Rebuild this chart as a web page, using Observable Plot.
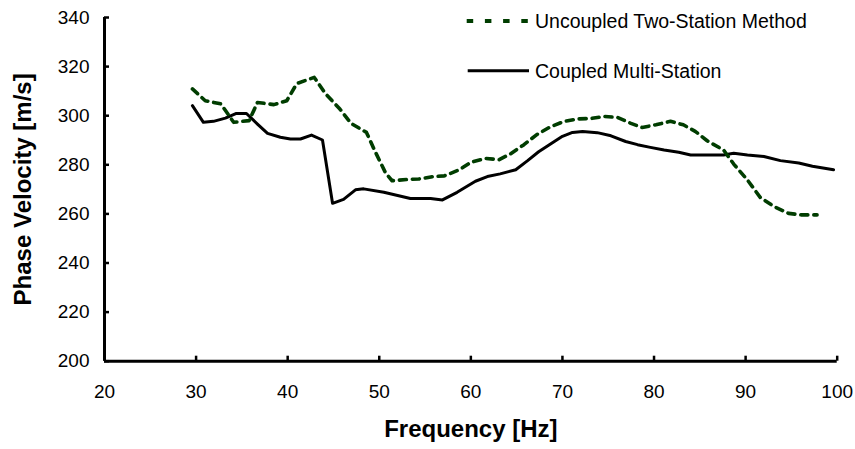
<!DOCTYPE html>
<html>
<head>
<meta charset="utf-8">
<script src="https://cdn.jsdelivr.net/npm/d3@7"></script>
<script src="https://cdn.jsdelivr.net/npm/@observablehq/plot@0.6"></script>
<style>
  html, body { margin: 0; padding: 0; background: #fff; }
  #chart { width: 855px; height: 449px; }
</style>
</head>
<body>
<div id="chart"></div>
<script>
// ---- Data ----
const freqUncoupled = [29.6, 31.0, 32.7, 34.1, 35.8, 36.7, 38.5, 39.9, 41.0, 42.9, 44.1, 45.7, 46.9, 48.6, 49.5, 50.7, 51.4, 53.0, 54.3, 55.9, 57.1, 58.7, 60.0, 61.6, 63.1, 64.3, 65.8, 67.2, 68.7, 70.2, 71.8, 73.2, 74.6, 76.0, 77.4, 78.7, 80.2, 81.8, 83.2, 84.5, 85.8, 87.6, 88.7, 90.2, 91.6, 93.1, 94.7, 96.1, 97.8];
const velUncoupled  = [310.9, 306.1, 304.8, 297.3, 298.0, 305.4, 304.5, 306.1, 313.1, 315.6, 309.1, 302.7, 296.9, 293.2, 285.8, 276.6, 273.5, 274.0, 274.2, 275.2, 275.5, 277.9, 281.0, 282.6, 282.1, 284.4, 288.2, 292.3, 295.5, 297.7, 298.7, 298.9, 299.7, 299.3, 297.0, 295.2, 296.3, 297.7, 296.3, 293.6, 289.8, 286.0, 280.3, 273.8, 266.7, 263.0, 260.2, 259.6, 259.6];

const freqCoupled = [29.6, 30.8, 31.9, 33.2, 34.4, 35.5, 36.7, 37.8, 39.2, 40.3, 41.4, 42.6, 43.8, 44.9, 46.1, 47.4, 48.3, 50.5, 53.4, 55.6, 56.9, 58.5, 60.5, 61.8, 63.2, 64.9, 66.2, 67.4, 68.7, 70.0, 71.1, 72.2, 73.8, 75.3, 76.9, 78.2, 79.6, 81.1, 82.7, 84.0, 86.2, 87.6, 88.7, 90.2, 92.0, 93.8, 95.8, 97.3, 99.6];
const velCoupled  = [304.1, 297.3, 297.7, 299.0, 300.9, 300.9, 296.6, 292.8, 291.2, 290.5, 290.5, 292.1, 290.1, 264.3, 265.9, 269.8, 270.2, 268.8, 266.3, 266.3, 265.7, 268.8, 273.3, 275.2, 276.3, 278.0, 281.7, 285.3, 288.5, 291.6, 293.2, 293.6, 293.1, 291.8, 289.5, 288.2, 287.1, 286.0, 285.1, 284.0, 284.0, 284.0, 284.7, 284.0, 283.4, 281.7, 280.7, 279.4, 278.0];

const seriesNames = ["Uncoupled Two-Station Method", "Coupled Multi-Station"];
const xTicks = [20, 30, 40, 50, 60, 70, 80, 90, 100];
const yTicks = [200, 220, 240, 260, 280, 300, 320, 340];
const xTitle = "Frequency [Hz]";
const yTitle = "Phase Velocity [m/s]";

// ---- Build tables ----
const uncoupled = freqUncoupled.map((f, i) => ({f, v: velUncoupled[i]}));
const coupled = freqCoupled.map((f, i) => ({f, v: velCoupled[i]}));

const FONT = "'Liberation Sans', Arial, Helvetica, sans-serif";
const GREEN = "#003d00";

const chart = Plot.plot({
  width: 855,
  height: 449,
  marginLeft: 104,
  marginRight: 18.3,
  marginTop: 17,
  marginBottom: 88.3,
  style: {fontFamily: FONT, fontSize: "19px", color: "#000", background: "#fff", overflow: "visible"},
  x: {domain: [20, 100]},
  y: {domain: [200, 340]},
  marks: [
    Plot.axisX({ticks: xTicks, tickSize: -5, tickPadding: 28, strokeWidth: 2.5, label: null, fontSize: 19, tickFormat: d => String(d)}),
    Plot.axisY({ticks: yTicks, tickSize: -5, tickPadding: 20, strokeWidth: 2.5, label: null, fontSize: 19, tickFormat: d => String(d)}),
    Plot.line(coupled, {x: "f", y: "v", stroke: "#000", strokeWidth: 3, strokeLinejoin: "round"}),
    Plot.line(uncoupled, {x: "f", y: "v", stroke: GREEN, strokeWidth: 3.6, strokeDasharray: "7,6", strokeLinejoin: "round"}),
    Plot.ruleX([20], {stroke: "#000", strokeWidth: 3}),
    Plot.ruleY([200], {stroke: "#000", strokeWidth: 3}),
    Plot.text([xTitle], {text: d => d, frameAnchor: "bottom", dy: 76, fontWeight: "bold", fontSize: 24, fill: "#000"}),
    Plot.text([yTitle], {text: d => d, frameAnchor: "left", dx: -81.5, rotate: -90, textAnchor: "middle", lineAnchor: "middle", fontWeight: "bold", fontSize: 24, fill: "#000"})
  ]
});

// ---- Legend (inside the chart, top right) ----
const svg = d3.select(chart);
const leg = svg.append("g").attr("font-family", FONT).attr("font-size", 19.5).attr("text-anchor", "start");
const legendItems = [
  {name: seriesNames[0], y: 21, stroke: GREEN, width: 4, dash: "6.5,11.7", x1: 466.7, x2: 527.8},
  {name: seriesNames[1], y: 70.7, stroke: "#000", width: 3, dash: null, x1: 467.7, x2: 529}
];
legendItems.forEach(it => {
  const l = leg.append("line")
    .attr("x1", it.x1).attr("x2", it.x2).attr("y1", it.y).attr("y2", it.y)
    .attr("stroke", it.stroke).attr("stroke-width", it.width);
  if (it.dash) l.attr("stroke-dasharray", it.dash);
  leg.append("text").attr("x", 535).attr("y", it.y).attr("dy", "0.35em")
    .attr("text-anchor", "start").attr("fill", "#000").text(it.name);
});

document.getElementById("chart").appendChild(chart);
</script>
</body>
</html>
